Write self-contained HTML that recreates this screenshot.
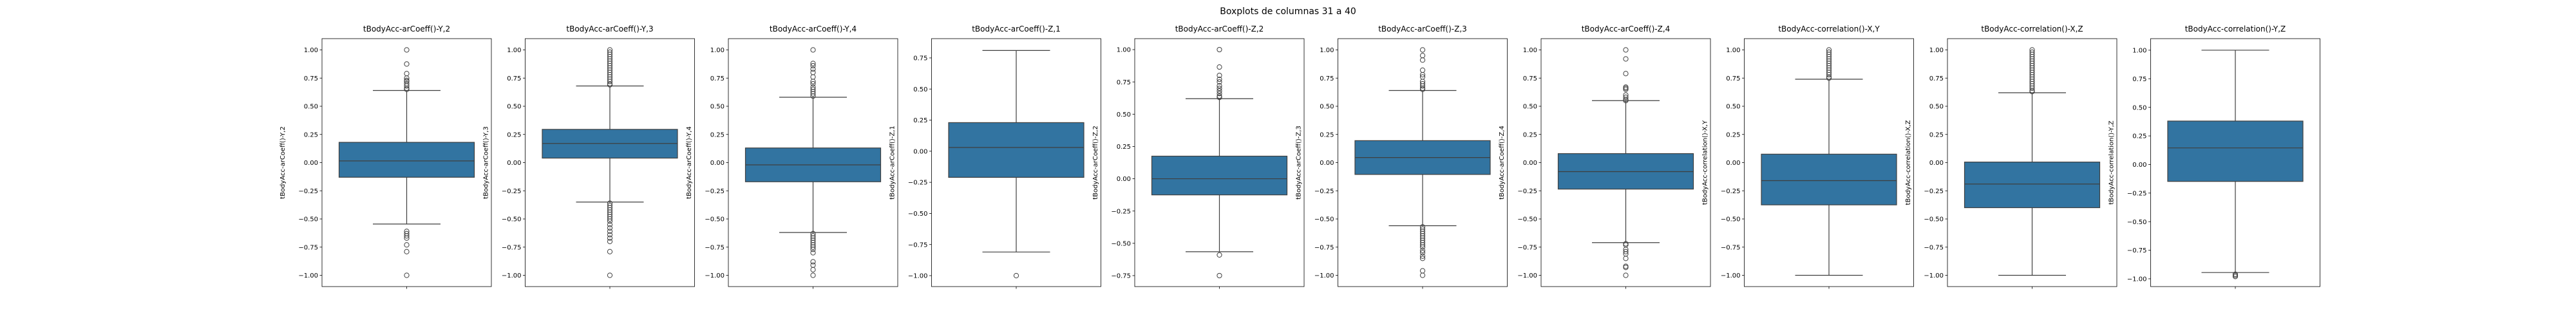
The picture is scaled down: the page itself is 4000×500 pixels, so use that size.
<!DOCTYPE html>
<html><head><meta charset="utf-8"><style>
html,body{margin:0;padding:0;background:#fff;}
svg{display:block;font-family:"DejaVu Sans","Liberation Sans",sans-serif;}
</style></head><body>
<svg id="chart" width="4000" height="500" viewBox="0 0 4000 500" xmlns="http://www.w3.org/2000/svg">
<rect width="4000" height="500" fill="#fff"/>
<text x="2000" y="22" font-size="14" text-anchor="middle" fill="#000">Boxplots de columnas 31 a 40</text>
</svg>
<script>
const titles=["tBodyAcc-arCoeff()-Y,2","tBodyAcc-arCoeff()-Y,3","tBodyAcc-arCoeff()-Y,4","tBodyAcc-arCoeff()-Z,1","tBodyAcc-arCoeff()-Z,2","tBodyAcc-arCoeff()-Z,3","tBodyAcc-arCoeff()-Z,4","tBodyAcc-correlation()-X,Y","tBodyAcc-correlation()-X,Z","tBodyAcc-correlation()-Y,Z"];
const yMin=[-1.1,-1.1,-1.1,-1.088,-0.835,-1.1,-1.1,-1.1,-1.1,-1.068];
const yMax=[1.1,1.1,1.1,0.905,1.085,1.1,1.1,1.1,1.1,1.101];
const yTicks=[
[-1,-0.75,-0.5,-0.25,0,0.25,0.5,0.75,1],[-1,-0.75,-0.5,-0.25,0,0.25,0.5,0.75,1],[-1,-0.75,-0.5,-0.25,0,0.25,0.5,0.75,1],
[-1,-0.75,-0.5,-0.25,0,0.25,0.5,0.75],[-0.75,-0.5,-0.25,0,0.25,0.5,0.75,1],[-1,-0.75,-0.5,-0.25,0,0.25,0.5,0.75,1],
[-1,-0.75,-0.5,-0.25,0,0.25,0.5,0.75,1],[-1,-0.75,-0.5,-0.25,0,0.25,0.5,0.75,1],[-1,-0.75,-0.5,-0.25,0,0.25,0.5,0.75,1],
[-1,-0.75,-0.5,-0.25,0,0.25,0.5,0.75,1]];
const q1=[-0.13,0.04,-0.17,-0.21,-0.125,-0.105,-0.235,-0.375,-0.40,-0.148];
const med=[0.015,0.17,-0.02,0.03,0.0,0.045,-0.08,-0.16,-0.19,0.145];
const q3=[0.18,0.295,0.13,0.23,0.175,0.195,0.08,0.075,0.005,0.38];
const whiskLo=[-0.545,-0.35,-0.62,-0.81,-0.565,-0.56,-0.71,-1.0,-1.0,-0.945];
const whiskHi=[0.64,0.68,0.58,0.81,0.62,0.64,0.55,0.74,0.62,1.0];
const outliers=[
[1.0,0.875,0.79,0.75,0.73,0.72,0.70,0.68,0.66,0.65,-0.61,-0.63,-0.65,-0.67,-0.73,-0.79,-1.0],
[1.0,0.98,0.96,0.94,0.92,0.9,0.88,0.86,0.84,0.82,0.8,0.78,0.76,0.74,0.72,0.70,0.69,-0.36,-0.38,-0.4,-0.42,-0.44,-0.46,-0.48,-0.5,-0.52,-0.55,-0.58,-0.61,-0.64,-0.67,-0.7,-0.79,-1.0],
[1.0,0.88,0.86,0.83,0.8,0.76,0.72,0.70,0.67,0.65,0.63,0.61,0.59,-0.63,-0.65,-0.67,-0.69,-0.71,-0.73,-0.75,-0.77,-0.8,-0.88,-0.91,-0.95,-1.0],
[-1.0],
[1.0,0.865,0.80,0.77,0.75,0.72,0.70,0.68,0.66,0.64,0.63,-0.59,-0.75],
[1.0,0.95,0.91,0.82,0.78,0.76,0.72,0.70,0.68,0.66,0.65,-0.57,-0.59,-0.61,-0.63,-0.65,-0.67,-0.69,-0.71,-0.73,-0.75,-0.78,-0.80,-0.83,-0.85,-0.96,-1.0],
[1.0,0.92,0.79,0.67,0.66,0.65,0.6,0.58,0.56,0.55,-0.72,-0.73,-0.77,-0.79,-0.81,-0.85,-0.92,-0.93,-1.0],
[1.0,0.98,0.96,0.94,0.92,0.9,0.88,0.86,0.84,0.82,0.8,0.78,0.76,0.75],
[1.0,0.98,0.96,0.94,0.92,0.9,0.88,0.86,0.84,0.82,0.8,0.78,0.76,0.74,0.72,0.70,0.68,0.66,0.64,0.63],
[-0.96,-0.97,-0.98]];

const NS="http://www.w3.org/2000/svg";
const svg=document.getElementById('chart');
const TOP=60,BOT=445,W=263,LEFT0=500,STEP=315.5;
const LC="#3f3f3f";
function mk(tag,attrs,parent){const e=document.createElementNS(NS,tag);for(const k in attrs)e.setAttribute(k,attrs[k]);(parent||svg).appendChild(e);return e;}
function fmt(v){const s=Math.abs(v).toFixed(2);return (v<0?"\u2212":"")+s;}
titles.forEach((t,i)=>{
  const L=LEFT0+i*STEP, cx=L+W/2;
  const y=v=>BOT-(v-yMin[i])/(yMax[i]-yMin[i])*(BOT-TOP);
  const g=mk('g',{});
  
  
  const tt=mk('text',{x:cx,y:49,'font-size':12,'text-anchor':'middle',fill:'#000'},g);
  tt.textContent=t;
  
  
  yTicks[i].forEach(v=>{
    const yy=y(v);
    const tk=mk('line',{x1:L-3.5,x2:L,y1:yy,y2:yy,stroke:'#000','stroke-width':0.8},g);
    
    
    const lb=mk('text',{x:L-6,y:yy+3.6,'font-size':10,'text-anchor':'end',fill:'#000'},g);
    lb.textContent=fmt(v);
    
    
  });
  const yl=mk('text',{x:0,y:0,'font-size':10,'text-anchor':'middle',fill:'#000',transform:`translate(${L-58},${(TOP+BOT)/2}) rotate(-90)`},g);
  yl.textContent=t;
  
  
  const xt=mk('line',{x1:cx,x2:cx,y1:BOT,y2:BOT+3.5,stroke:'#000','stroke-width':0.8},g);
  
  
  const bw=210,cw=105;
  const w1=mk('line',{x1:cx,x2:cx,y1:y(q3[i]),y2:y(whiskHi[i]),stroke:LC,'stroke-width':1.2},g);
  
  
  const w2=mk('line',{x1:cx,x2:cx,y1:y(q1[i]),y2:y(whiskLo[i]),stroke:LC,'stroke-width':1.2},g);
  
  
  const c1=mk('line',{x1:cx-cw/2,x2:cx+cw/2,y1:y(whiskHi[i]),y2:y(whiskHi[i]),stroke:LC,'stroke-width':1.2},g);
  
  
  const c2=mk('line',{x1:cx-cw/2,x2:cx+cw/2,y1:y(whiskLo[i]),y2:y(whiskLo[i]),stroke:LC,'stroke-width':1.2},g);
  
  
  const bx=mk('rect',{x:cx-bw/2,y:y(q3[i]),width:bw,height:y(q1[i])-y(q3[i]),fill:'#3274a1',stroke:LC,'stroke-width':1.2},g);
  
  
  const md=mk('line',{x1:cx-bw/2,x2:cx+bw/2,y1:y(med[i]),y2:y(med[i]),stroke:LC,'stroke-width':1.2},g);
  
  
  outliers[i].forEach(v=>{
    const o=mk('circle',{cx:cx,cy:y(v),r:3.6,fill:'none',stroke:LC,'stroke-width':1},g);
    
    
  });
  const fr=mk('rect',{x:L,y:TOP,width:W,height:BOT-TOP,fill:'none',stroke:'#000','stroke-width':0.8},g);
  
  
});
</script>
</body></html>
